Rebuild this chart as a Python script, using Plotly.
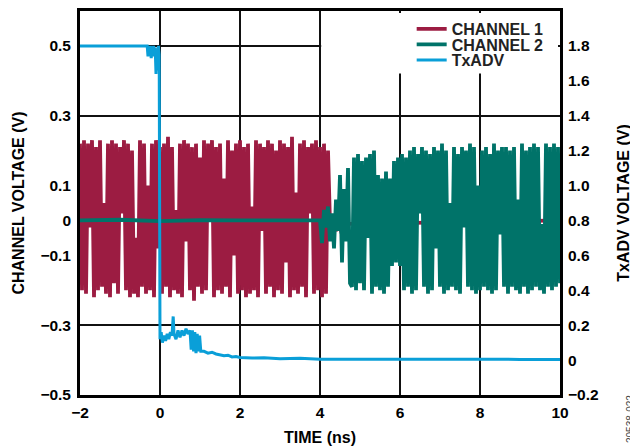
import numpy as np
import plotly.graph_objects as go

# ---------------- data ----------------
# CHANNEL 1: peak samples every 0.05 ns from -2.0 ns to 4.2 ns (V)
ch1_t0, ch1_dt = -2.0, 0.05
ch1_v = [
    0.22, -0.20, 0.23, -0.21, 0.22, -0.02, 0.23, -0.22, 0.21, -0.20,
    0.23, -0.19, 0.05, -0.21, 0.22, -0.22, 0.23, -0.18, 0.22, -0.21,
    0.21, 0.02, 0.23, -0.20, 0.22, -0.22, 0.20, -0.21, -0.05, -0.22,
    0.23, -0.19, 0.22, -0.21, 0.10, -0.20, 0.22, -0.22, 0.23, -0.08,
    0.21, -0.21, 0.22, -0.19, 0.24, -0.22, 0.21, -0.20, 0.03, -0.21,
    0.22, -0.22, 0.23, -0.06, 0.22, -0.20, 0.21, -0.23, 0.22, -0.19,
    0.18, -0.21, 0.23, -0.20, 0.22, 0.00, 0.23, -0.22, 0.21, -0.20,
    0.22, -0.21, 0.12, -0.19, 0.23, -0.22, 0.20, -0.10, 0.22, -0.21,
    0.23, -0.20, 0.21, -0.22, 0.22, -0.21, 0.04, -0.20, 0.23, -0.22,
    0.22, -0.03, 0.21, -0.21, 0.23, -0.19, 0.22, -0.22, 0.20, -0.20,
    0.23, -0.21, 0.22, -0.12, 0.21, -0.22, 0.24, -0.20, 0.08, -0.21,
    0.22, -0.19, 0.23, -0.22, 0.21, 0.02, 0.22, -0.21, 0.23, -0.20,
    0.21, -0.22, 0.22, -0.21, 0.20,
]
# CHANNEL 1 idle tail after the burst
ch1_tail_t = [4.25, 4.30, 4.35, 4.40, 4.45, 4.50, 4.55, 4.60, 4.65, 4.70, 10.0]
ch1_tail_v = [-0.01, 0.01, -0.02, -0.03, -0.01, -0.02, -0.04, -0.02, 0.00, -0.01, 0.0]

# CHANNEL 2: idle, then turn-on, then burst (peaks every 0.05 ns from 4.8 ns)
ch2_idle_t = [-2.0, -1.0, 0.0, 1.0, 2.0, 3.0, 3.95]
ch2_idle_v = [0.0, 0.002, -0.002, 0.001, 0.0, -0.001, 0.0]
ch2_on_t = [4.00, 4.05, 4.10, 4.15, 4.20, 4.25, 4.30, 4.35, 4.40, 4.45,
            4.50, 4.55, 4.60, 4.65, 4.70, 4.75]
ch2_on_v = [0.00, -0.065, 0.03, -0.02, 0.04, -0.06, 0.02, -0.08, 0.06, -0.03,
            0.13, -0.12, 0.09, -0.06, 0.15, -0.18]
ch2_t0, ch2_dt = 4.8, 0.05
ch2_v = [
    -0.19, 0.18, -0.20, 0.19, -0.18, 0.17, -0.20, 0.18, -0.05, 0.19,
    -0.21, 0.20, -0.19, 0.13, -0.20, 0.12, -0.21, 0.14, -0.19, 0.12,
    -0.13, 0.17, -0.12, 0.18, -0.13, 0.19, -0.20, 0.18, -0.19, 0.20,
    -0.21, 0.21, -0.20, 0.19, 0.02, 0.21, -0.19, 0.20, -0.21, 0.19,
    -0.20, 0.21, -0.08, 0.20, -0.19, 0.22, -0.21, 0.20, -0.20, 0.05,
    -0.19, 0.21, -0.20, 0.19, -0.21, 0.21, -0.02, 0.20, -0.19, 0.22,
    -0.20, 0.21, -0.21, 0.10, -0.20, 0.20, -0.19, 0.21, -0.20, 0.19,
    -0.21, 0.22, -0.20, 0.20, -0.04, 0.21, -0.19, 0.21, -0.21, 0.20,
    -0.19, 0.21, -0.20, 0.06, -0.21, 0.22, -0.19, 0.20, -0.21, 0.21,
    -0.20, 0.22, -0.19, 0.21, -0.20, -0.01, -0.21, 0.22, -0.19, 0.21,
    -0.20, 0.22, -0.19, 0.21, -0.18,
]

# TxADV (right axis, V)
tx_t = [-2.0, -0.32, -0.30, -0.28, -0.26, -0.24, -0.22, -0.20, -0.18, -0.16,
        -0.14, -0.12, -0.10, -0.08, -0.06, -0.04, -0.02, 0.00, 0.03, 0.06,
        0.10, 0.14, 0.18, 0.22, 0.26, 0.30, 0.33, 0.35, 0.40, 0.45,
        0.50, 0.55, 0.60, 0.65, 0.70, 0.75, 0.78, 0.81, 0.84, 0.87,
        0.90, 0.93, 0.96, 0.99, 1.02, 1.10, 1.20, 1.30, 1.40, 1.50,
        1.60, 1.70, 1.80, 1.90, 2.00, 2.30, 2.60, 3.00, 3.50, 4.00,
        5.00, 6.00, 7.00, 8.00, 9.00, 10.0]
tx_v = [1.80, 1.80, 1.74, 1.80, 1.75, 1.80, 1.73, 1.79, 1.74, 1.80,
        1.76, 1.79, 1.64, 1.78, 1.66, 1.80, 1.75, 0.12, 0.16, 0.10,
        0.14, 0.11, 0.15, 0.12, 0.16, 0.14, 0.25, 0.15, 0.12, 0.17,
        0.13, 0.17, 0.14, 0.18, 0.15, 0.17, 0.06, 0.17, 0.05, 0.16,
        0.04, 0.15, 0.05, 0.14, 0.05, 0.05, 0.04, 0.045, 0.035, 0.03,
        0.025, 0.028, 0.018, 0.02, 0.015, 0.012, 0.014, 0.008, 0.01, 0.005,
        0.006, 0.004, 0.006, 0.005, 0.004, 0.004]

x_ticks = [-2, 0, 2, 4, 6, 8, 10]
x_labels = ["\u22122", "0", "2", "4", "6", "8", "10"]
yl_ticks = [-0.5, -0.3, -0.1, 0, 0.1, 0.3, 0.5]
yl_labels = ["\u22120.5", "\u22120.3", "\u22120.1", "0", "0.1", "0.3", "0.5"]
yl_grid = [-0.3, 0.3, 0.5]
yr_ticks = [-0.2, 0, 0.2, 0.4, 0.6, 0.8, 1.0, 1.2, 1.4, 1.6, 1.8, 2.0]
yr_labels = ["\u22120.2", "0", "0.2", "0.4", "0.6", "0.8", "1.0", "1.2", "1.4", "1.6", "1.8", "2.0"]

# ---------------- build ----------------
ch1_t = list(np.round(ch1_t0 + ch1_dt * np.arange(len(ch1_v)), 3)) + ch1_tail_t
ch1_all = ch1_v + ch1_tail_v
ch2_t = ch2_idle_t + ch2_on_t + list(np.round(ch2_t0 + ch2_dt * np.arange(len(ch2_v)), 3))
ch2_all = ch2_idle_v + ch2_on_v + ch2_v

C1 = "#9C1C42"
C2 = "#007369"
C3 = "#0A9FD8"
FONT = "Liberation Sans"
LW = 3.8

fig = go.Figure()
fig.add_trace(go.Scatter(x=ch1_t, y=ch1_all, mode="lines", name="CHANNEL 1",
                         line=dict(color=C1, width=LW), yaxis="y", legend="legend"))
fig.add_trace(go.Scatter(x=ch2_t, y=ch2_all, mode="lines", name="CHANNEL 2",
                         line=dict(color=C2, width=LW), yaxis="y", legend="legend2"))
fig.add_trace(go.Scatter(x=tx_t, y=tx_v, mode="lines", name="TxADV",
                         line=dict(color=C3, width=3), yaxis="y2", legend="legend3"))

tickfont = dict(family=FONT, size=15.5, color="black", weight="bold")
titlefont = dict(family=FONT, size=16, color="black", weight="bold")

def leg(ypix):
    return dict(x=0.691, y=(395 - ypix) / 384, xanchor="left", yanchor="middle",
                bgcolor="rgba(0,0,0,0)", borderwidth=0,
                font=dict(family=FONT, size=16, color="#222", weight="bold"))

# the page body adds an 8 px offset, so the figure is 630x440
fig.update_layout(
    template="none",
    width=630, height=440,
    margin=dict(l=72, r=78, t=3, b=53, autoexpand=False),
    paper_bgcolor="white", plot_bgcolor="white",
    showlegend=True,
    xaxis=dict(range=[-2, 10], tickvals=x_ticks, ticktext=x_labels, automargin=False,
               showgrid=True, gridcolor="#111", gridwidth=1.5,
               showline=True, mirror=True, linecolor="black", linewidth=2.5,
               ticks="", ticklabelstandoff=2, tickfont=tickfont, zeroline=False,
               title=dict(text="TIME (ns)", font=titlefont, standoff=12)),
    yaxis=dict(range=[-0.5, 0.6], tickvals=yl_grid, showticklabels=False, automargin=False,
               showgrid=True, gridcolor="#111", gridwidth=1.5, zeroline=False,
               showline=True, mirror=True, linecolor="black", linewidth=2.5, ticks=""),
    yaxis3=dict(range=[-0.5, 0.6], overlaying="y", side="left", anchor="x", automargin=False,
                tickvals=yl_ticks, ticktext=yl_labels, showgrid=False, zeroline=False,
                showline=False, ticks="", ticklabelstandoff=8, tickfont=tickfont,
                title=dict(text="CHANNEL VOLTAGE (V)", font=titlefont, standoff=11)),
    yaxis2=dict(range=[-0.2, 2.0], overlaying="y", side="right", anchor="x", automargin=False,
                tickvals=yr_ticks, ticktext=yr_labels, showgrid=False, zeroline=False,
                showline=False, ticks="", ticklabelstandoff=7, tickfont=tickfont,
                title=dict(text="TxADV VOLTAGE (V)", font=titlefont, standoff=20)),
    legend=leg(29), legend2=leg(44.5), legend3=leg(60),
    shapes=[dict(type="rect", xref="x", yref="y", x0=4.03, x1=9.95,
                 y0=0.421, y1=0.594, fillcolor="white", line=dict(width=0),
                 layer="above")],
    annotations=[dict(text="20538-022", xref="paper", yref="paper",
                      x=(630 - 80) / 480, y=(395 - 419) / 384, textangle=-90,
                      showarrow=False, xanchor="center", yanchor="middle",
                      font=dict(family=FONT, size=10, color="#444"))],
)
# placeholder trace so the left label axis is drawn
fig.add_trace(go.Scatter(x=[None], y=[None], yaxis="y3", showlegend=False, hoverinfo="skip"))

fig.write_html("out.html")
